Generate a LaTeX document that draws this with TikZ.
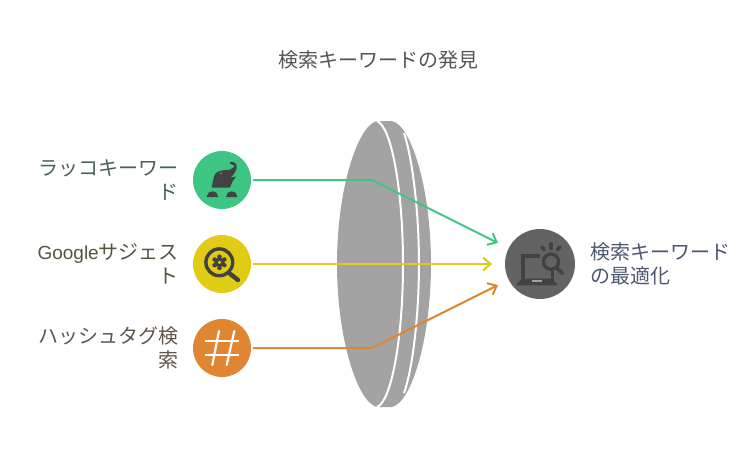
\documentclass[tikz,border=0pt]{standalone}
\usepackage{fontspec}
\setmainfont{Noto Sans CJK JP}
\newfontfamily\latinfont{Liberation Sans}
\usetikzlibrary{arrows.meta, positioning}

\definecolor{lensgray}{HTML}{A3A3A3}
\definecolor{hubgray}{HTML}{636363}
\definecolor{icongray}{HTML}{424242}
\definecolor{moleline}{HTML}{3CC583}
\definecolor{suggestline}{HTML}{E0CB15}
\definecolor{hashline}{HTML}{E08531}
\definecolor{titletext}{HTML}{555555}
\definecolor{moletext}{HTML}{48605A}
\definecolor{suggesttext}{HTML}{55553F}
\definecolor{hashtext}{HTML}{62554A}
\definecolor{hubtext}{HTML}{4C5770}

\tikzset{
	source/.style={circle, inner sep=0pt, outer sep=0pt, minimum size=58pt},
	label/.style={inner sep=0pt, font=\fontsize{20}{24}\selectfont},
	flow/.style={line width=2pt, -{Straight Barb[length=7.5pt, width=13pt]}}
}

\begin{document}
\begin{tikzpicture}[x=1pt, y=-1pt]
\useasboundingbox (0,0) rectangle (756,456);

% title
\node [label, text=titletext] (title) at (378,60) {検索キーワードの発見};

% lens
\path [fill=lensgray] (377,121) -- (392,121) .. controls (411,125) and (431,188) .. (431,264)
	.. controls (431,340) and (411,403) .. (392,407) -- (377,407)
	.. controls (358,403) and (337,340) .. (337,264)
	.. controls (337,188) and (358,125) .. (377,121) -- cycle;
\path [draw=white, line width=2pt] (377,121) .. controls (391,126) and (403,188) .. (403,264)
	.. controls (403,340) and (391,402) .. (377,407);
\path [draw=white, line width=2pt] (404,133) .. controls (413,160) and (419,215) .. (419,264)
	.. controls (419,313) and (413,368) .. (404,393);

% sources
\node [source, fill=moleline] (mole) at (222,180) {};
\node [source, fill=suggestline, below=26pt of mole] (suggest) {};
\node [source, fill=hashline, below=26pt of suggest] (hash) {};

% target
\node [circle, fill=hubgray, inner sep=0pt, outer sep=0pt, minimum size=70pt] (hub) at (540,264) {};

% labels
\node [label, align=right, text=moletext, left=14pt of mole] (molelabel) {
	ラッコキーワー\\ド};
\node [label, align=right, text=suggesttext, left=14pt of suggest] (suggestlabel) {
	{\latinfont\fontsize{19}{24}\selectfont Google}サジェス\\ト};
\node [label, align=right, text=hashtext, left=14pt of hash] (hashlabel) {
	ハッシュタグ検\\索};
\node [label, align=left, text=hubtext, right=15pt of hub] (hublabel) {
	検索キーワード\\の最適化};

% connectors
\coordinate (molebend) at (372,180);
\coordinate (hashbend) at (372,348);

\path [draw, flow, moleline, shorten <=2pt, shorten >=12pt] (mole) -- (molebend) -- (hub);
\path [draw, flow, suggestline, shorten <=2pt, shorten >=13pt] (suggest) -- (hub);
\path [draw, flow, hashline, shorten <=2pt, shorten >=12pt] (hash) -- (hashbend) -- (hub);

% mole icon
\path [fill=icongray] (211.7,187.5) -- (214,176.3) .. controls (215.5,172.5) and (218.5,170.7) .. (221.7,170.5)
	-- (230,169.7) -- (235,166.3) -- (229.3,163) -- (231.7,161.7) -- (235,162.7)
	.. controls (237.5,165) and (237.5,170) .. (233.3,174.7) -- (230,178) -- (236,176.3) -- (232.7,181.3) -- (230,187.5) -- cycle;
\path [fill=moleline] (221,173.3) circle (0.9);
\path [fill=icongray] (206.7,197) arc[start angle=180, end angle=360, x radius=5.8, y radius=5.6] -- cycle;
\path [fill=icongray] (226,197) arc[start angle=180, end angle=360, x radius=5.7, y radius=5.6] -- cycle;

% magnifier icon
\path [draw=icongray, line width=3.4pt] (219.3,262.3) circle (13.4);
\path [draw=icongray, line width=4.4pt, line cap=round] (229,273) -- (238,280);
\foreach \a in {30,90,...,330}
	\path [fill=icongray] (219.5,262.3) ++(\a:5.6) circle (2.3);
\path [fill=icongray] (219.5,262.3) circle (5);
\path [fill=suggestline] (219.5,262.3) circle (1.8);

% hash icon
\path [draw=white, line width=2.2pt] (205,340.7) -- (239.3,340.7);
\path [draw=white, line width=2.2pt] (205,355) -- (239.3,355);
\path [draw=white, line width=2.2pt, line cap=round] (219,331) -- (212.3,365);
\path [draw=white, line width=2.2pt, line cap=round] (234.3,331) -- (226.7,365);

% laptop icon
\path [draw=icongray, line width=4pt] (540,256) -- (523.3,256) -- (523.3,279);
\path [draw=icongray, line width=3.4pt] (552.3,271) -- (552.3,280);
\path [fill=icongray, rounded corners=1pt] (521.7,278.5) -- (551.7,278.5) -- (558,285.3) -- (516,285.3) -- cycle;
\path [fill=hubgray!60!white] (531.7,280.2) rectangle (542.3,282.4);
\path [draw=icongray, line width=3.4pt] (551,261.7) circle (7.6);
\path [draw=icongray, line width=3.6pt, line cap=round] (557.3,268.3) -- (562.3,273.3);
\path [draw=icongray, line width=3.6pt, line cap=round] (542,247) -- (544,249.5);
\path [draw=icongray, line width=3.6pt, line cap=round] (551,244) -- (551,248.3);
\path [draw=icongray, line width=3.6pt, line cap=round] (560,247) -- (557.5,249.5);

\end{tikzpicture}
\end{document}
